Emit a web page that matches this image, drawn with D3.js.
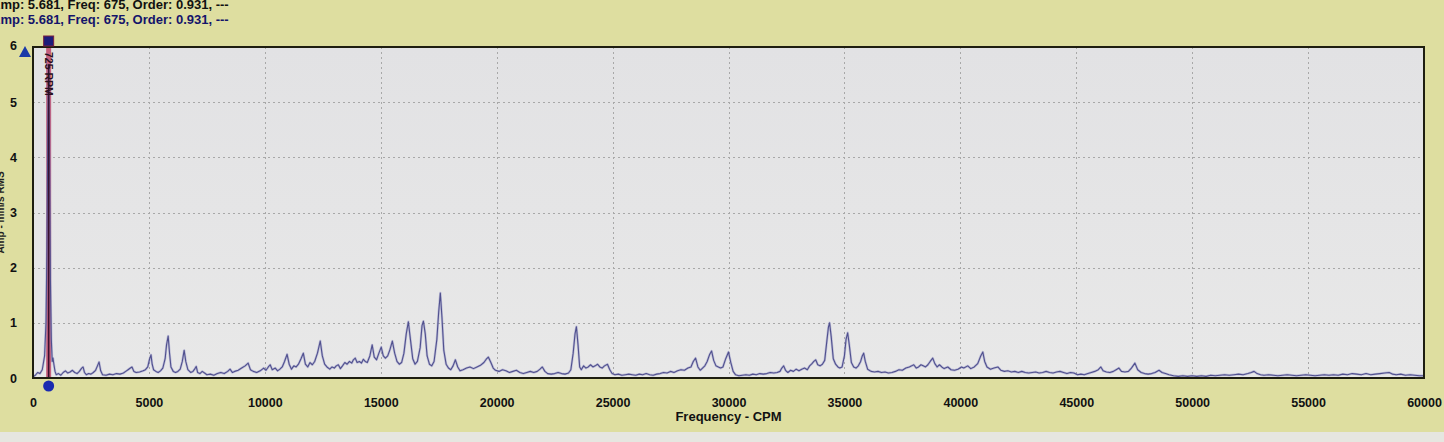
<!DOCTYPE html>
<html><head><meta charset="utf-8">
<script src="https://cdn.jsdelivr.net/npm/d3@7"></script>
<style>
html,body{margin:0;padding:0;background:#dedea0;overflow:hidden}
svg{display:block}
text{font-family:"Liberation Sans",Arial,sans-serif}
</style></head>
<body>
<svg id="c" width="1444" height="442"></svg>
<script>
// ---- data ----
const xTicks = [0,5000,10000,15000,20000,25000,30000,35000,40000,45000,50000,55000,60000];
const yTicks = [0,1,2,3,4,5,6];
const cursorFreq = 675, cursorAmp = 5.681, cursorOrder = 0.931, rpmLabel = "725 RPM";
const headerText = "Amp: 5.681, Freq: 675, Order: 0.931, ---";
const xTitle = "Frequency - CPM", yTitle = "Amp - mm/s RMS";

const band0 = [[0,0.02],[100,0.05],[200,0.1],[300,0.08],[400,0.15],[500,0.4],[560,1.0],[600,2.3],[640,4.5],[675,5.681],[710,4.2],[750,1.8],[790,0.7],[830,0.3],[863,0.36],[900,0.25],[950,0.12],[1000,0.06],[1100,0.08],[1200,0.05],[1300,0.1],[1400,0.13],[1500,0.09],[1600,0.11],[1700,0.14],[1800,0.1],[1900,0.08],[2000,0.12],[2100,0.18],[2160,0.2],[2220,0.1],[2300,0.06],[2400,0.08],[2500,0.07],[2600,0.1],[2700,0.14],[2780,0.22],[2850,0.29],[2920,0.13],[3000,0.06],[3150,0.05],[3300,0.07],[3450,0.06],[3600,0.08],[3750,0.07],[3900,0.09],[4000,0.12],[4100,0.15],[4200,0.18],[4270,0.2],[4350,0.12],[4450,0.1],[4600,0.11],[4750,0.13],[4850,0.15],[4950,0.2],[5020,0.33],[5090,0.42],[5140,0.25],[5200,0.15],[5300,0.12],[5400,0.1],[5500,0.13],[5600,0.18],[5700,0.35],[5760,0.6],[5830,0.76],[5890,0.45],[5950,0.2],[6050,0.12],[6150,0.1],[6250,0.12],[6350,0.16],[6440,0.3],[6520,0.5],[6590,0.3],[6680,0.15],[6800,0.1],[6900,0.12],[6970,0.16],[7040,0.21],[7100,0.1],[7200,0.08],[7300,0.12],[7400,0.09],[7500,0.06],[7650,0.07],[7800,0.05],[7950,0.08],[8100,0.1],[8250,0.08],[8400,0.12],[8500,0.16],[8600,0.1],[8700,0.12],[8850,0.14],[9000,0.18],[9150,0.22],[9280,0.27],[9380,0.15],[9500,0.12],[9650,0.1],[9800,0.13],[9950,0.18]];
const band10k = [[10050,0.14],[10150,0.2],[10230,0.24],[10320,0.15],[10450,0.18],[10550,0.13],[10650,0.16],[10750,0.2],[10850,0.3],[10960,0.43],[11050,0.25],[11150,0.16],[11250,0.22],[11350,0.2],[11450,0.25],[11560,0.35],[11660,0.45],[11750,0.25],[11850,0.2],[11950,0.28],[12050,0.24],[12150,0.3],[12270,0.45],[12390,0.67],[12480,0.4],[12580,0.25],[12680,0.2],[12800,0.16],[12900,0.2],[13000,0.18],[13080,0.22],[13170,0.24],[13260,0.17],[13350,0.22],[13450,0.28],[13550,0.25],[13650,0.3],[13750,0.27],[13820,0.33],[13900,0.36],[13980,0.28],[14080,0.3],[14170,0.27],[14250,0.34],[14330,0.3],[14420,0.28],[14530,0.4],[14630,0.6],[14720,0.38],[14820,0.33],[14920,0.45],[15020,0.56],[15110,0.4],[15200,0.36],[15300,0.4],[15400,0.52],[15500,0.67],[15600,0.45],[15700,0.3],[15800,0.25],[15900,0.28],[16000,0.45],[16100,0.8],[16190,1.02],[16280,0.7],[16380,0.35],[16480,0.25],[16580,0.3],[16700,0.55],[16780,0.95],[16840,1.03],[16920,0.8],[17000,0.4],[17100,0.25],[17200,0.22],[17300,0.3],[17420,0.7],[17500,1.2],[17570,1.54],[17640,1.1],[17720,0.5],[17820,0.25],[17920,0.18],[18020,0.15],[18120,0.22],[18220,0.33],[18320,0.2],[18420,0.13],[18550,0.15],[18700,0.18],[18850,0.2],[19000,0.17],[19150,0.2],[19300,0.23],[19450,0.28],[19550,0.34],[19640,0.38],[19750,0.28],[19850,0.18],[19950,0.14]];
const band20k = [[20100,0.12],[20250,0.15],[20400,0.13],[20550,0.1],[20700,0.12],[20850,0.14],[21000,0.1],[21150,0.08],[21300,0.1],[21450,0.12],[21600,0.1],[21750,0.12],[21870,0.16],[21970,0.2],[22080,0.12],[22200,0.08],[22350,0.07],[22500,0.08],[22650,0.1],[22800,0.08],[22950,0.07],[23100,0.09],[23200,0.15],[23300,0.45],[23380,0.8],[23440,0.93],[23510,0.6],[23580,0.2],[23650,0.15],[23750,0.22],[23850,0.18],[23950,0.2],[24050,0.24],[24150,0.2],[24250,0.22],[24350,0.25],[24450,0.2],[24550,0.18],[24650,0.22],[24780,0.25],[24880,0.15],[24980,0.08],[25100,0.06],[25250,0.07],[25400,0.05],[25550,0.06],[25700,0.07],[25850,0.06],[26000,0.05],[26150,0.07],[26300,0.06],[26450,0.08],[26600,0.06],[26750,0.05],[26900,0.07],[27050,0.08],[27200,0.1],[27350,0.09],[27500,0.12],[27650,0.1],[27800,0.13],[27950,0.15],[28100,0.14],[28250,0.18],[28380,0.2],[28480,0.3],[28580,0.36],[28680,0.2],[28780,0.14],[28880,0.18],[28980,0.22],[29080,0.3],[29180,0.42],[29270,0.49],[29360,0.32],[29460,0.22],[29560,0.2],[29660,0.18],[29760,0.2],[29880,0.35]];
const band30k = [[30000,0.47],[30100,0.28],[30200,0.12],[30300,0.06],[30450,0.04],[30600,0.05],[30750,0.06],[30900,0.05],[31050,0.07],[31200,0.06],[31350,0.08],[31500,0.07],[31650,0.08],[31800,0.1],[31950,0.09],[32100,0.1],[32220,0.12],[32300,0.18],[32380,0.22],[32460,0.14],[32560,0.1],[32680,0.14],[32800,0.12],[32920,0.16],[33040,0.13],[33160,0.16],[33280,0.18],[33400,0.15],[33500,0.22],[33600,0.26],[33680,0.3],[33760,0.33],[33850,0.24],[33950,0.22],[34050,0.25],[34150,0.32],[34250,0.7],[34310,0.92],[34360,1.0],[34430,0.75],[34520,0.35],[34620,0.25],[34720,0.2],[34800,0.18],[34900,0.2],[35000,0.4],[35070,0.7],[35140,0.82],[35210,0.6],[35300,0.28],[35400,0.2],[35500,0.18],[35600,0.22],[35700,0.3],[35770,0.4],[35830,0.45],[35900,0.3],[36000,0.16],[36150,0.12],[36300,0.11],[36450,0.12],[36600,0.1],[36750,0.11],[36900,0.09],[37050,0.1],[37200,0.12],[37350,0.15],[37500,0.14],[37650,0.18],[37800,0.2],[37900,0.22],[37990,0.24],[38100,0.18],[38200,0.2],[38300,0.24],[38400,0.22],[38500,0.2],[38600,0.24],[38700,0.3],[38810,0.36],[38900,0.26],[39000,0.2],[39100,0.24],[39200,0.2],[39300,0.17],[39460,0.2],[39600,0.15],[39750,0.14],[39900,0.16]];
const band40k = [[40050,0.2],[40150,0.18],[40320,0.22],[40450,0.17],[40600,0.2],[40750,0.26],[40880,0.4],[40970,0.47],[41050,0.3],[41150,0.2],[41300,0.16],[41450,0.18],[41620,0.2],[41750,0.14],[41900,0.12],[42050,0.13],[42200,0.11],[42350,0.12],[42500,0.1],[42650,0.12],[42800,0.1],[42950,0.09],[43100,0.1],[43250,0.11],[43400,0.09],[43550,0.1],[43700,0.12],[43850,0.1],[44000,0.09],[44150,0.11],[44300,0.12],[44450,0.1],[44600,0.08],[44750,0.1],[44900,0.09],[45050,0.06],[45200,0.07],[45350,0.06],[45500,0.08],[45650,0.1],[45800,0.12],[45950,0.15],[46060,0.2],[46160,0.13],[46300,0.11],[46450,0.1],[46600,0.12],[46720,0.15],[46840,0.18],[46950,0.12],[47100,0.11],[47250,0.12],[47380,0.18],[47530,0.27],[47650,0.15],[47800,0.1],[47950,0.08],[48100,0.07],[48250,0.08],[48400,0.1],[48570,0.14],[48700,0.1],[48850,0.08],[49000,0.06],[49200,0.04],[49400,0.03],[49600,0.04],[49800,0.03]];
const band50k = [[50000,0.04],[50200,0.03],[50400,0.04],[50600,0.03],[50800,0.05],[51000,0.04],[51200,0.05],[51400,0.06],[51600,0.05],[51800,0.06],[52000,0.07],[52200,0.06],[52400,0.08],[52550,0.1],[52670,0.12],[52800,0.08],[52950,0.06],[53100,0.05],[53300,0.06],[53500,0.05],[53700,0.04],[53900,0.05],[54100,0.06],[54300,0.05],[54500,0.04],[54700,0.05],[54900,0.06],[55100,0.05],[55300,0.04],[55500,0.05],[55700,0.06],[55900,0.05],[56100,0.06],[56300,0.05],[56500,0.07],[56700,0.06],[56900,0.08],[57100,0.07],[57300,0.06],[57500,0.08],[57700,0.06],[57900,0.07],[58100,0.08],[58300,0.09],[58500,0.1],[58650,0.07],[58800,0.06],[59000,0.07],[59200,0.05],[59400,0.06],[59600,0.05],[59800,0.04],[60000,0.04]];
const spectrum = [].concat(band0, band10k, band20k, band30k, band40k, band50k);

// ---- layout ----
const W = 1444, H = 442;
const m = {left:33, right:1424, top:47, bottom:378};
const svg = d3.select("#c");
const x = d3.scaleLinear().domain([0,60000]).range([m.left, m.right]);
const y = d3.scaleLinear().domain([0,6]).range([m.bottom, m.top]);

// background
svg.append("rect").attr("x",0).attr("y",0).attr("width",W).attr("height",H).attr("fill","#dedea0");
svg.append("rect").attr("x",0).attr("y",432).attr("width",W).attr("height",10).attr("fill","#e6e6e0");

// plot area
const defs = svg.append("defs");
const grad = defs.append("linearGradient").attr("id","pg").attr("x1",0).attr("y1",0).attr("x2",0).attr("y2",1);
grad.append("stop").attr("offset","0%").attr("stop-color","#e2e2e4");
grad.append("stop").attr("offset","100%").attr("stop-color","#e8e8e8");
svg.append("rect").attr("x",m.left).attr("y",m.top).attr("width",m.right-m.left).attr("height",m.bottom-m.top).attr("fill","url(#pg)");
defs.append("clipPath").attr("id","clip").append("rect").attr("x",m.left).attr("y",m.top-12).attr("width",m.right-m.left).attr("height",m.bottom-m.top+12);

// grid
const grid = svg.append("g").attr("stroke","#a8a8a8").attr("stroke-width",1).attr("stroke-dasharray","2,3");
grid.selectAll("line.v").data(xTicks.slice(1,-1)).enter().append("line")
  .attr("x1",d=>Math.round(x(d))+0.5).attr("x2",d=>Math.round(x(d))+0.5).attr("y1",m.top).attr("y2",m.bottom);
grid.selectAll("line.h").data(yTicks.slice(1,-1)).enter().append("line")
  .attr("y1",d=>Math.round(y(d))+0.5).attr("y2",d=>Math.round(y(d))+0.5).attr("x1",m.left).attr("x2",m.right);

// axes (tick labels only, via d3 axes)
const xAxis = svg.append("g").attr("transform",`translate(0,${m.bottom})`)
  .call(d3.axisBottom(x).tickValues(xTicks).tickSize(0).tickPadding(20).tickFormat(d3.format("d")));
const yAxis = svg.append("g").attr("transform",`translate(${m.left},0)`)
  .call(d3.axisLeft(y).tickValues(yTicks).tickSize(0).tickPadding(16).tickFormat(d3.format("d")));
[xAxis,yAxis].forEach(a=>{
  a.select(".domain").remove();
  a.selectAll("text").attr("font-family","'Liberation Sans',Arial,sans-serif").attr("font-size",12.5).attr("font-weight","bold").attr("fill","#111");
});
yAxis.selectAll(".tick").filter(d=>d===6).select("text").attr("dy","0.2em");

// spectrum line
const line = d3.line().x(d=>x(d[0])).y(d=>y(d[1]));
const plotG = svg.append("g").attr("clip-path","url(#clip)");

// cursor band
plotG.append("rect").attr("x",x(cursorFreq)-2.5).attr("y",m.top-8).attr("width",5).attr("height",m.bottom-m.top+8)
  .attr("fill","#c0486a").attr("opacity",0.85);

plotG.append("path").datum(spectrum).attr("d",line).attr("fill","none")
  .attr("stroke","#8a8ac4").attr("stroke-width",2.4).attr("stroke-opacity",0.45).attr("stroke-linejoin","round");
plotG.append("path").datum(spectrum).attr("d",line).attr("fill","none")
  .attr("stroke","#50508e").attr("stroke-width",1.1).attr("stroke-linejoin","round");

// dark core of main peak
plotG.append("line").attr("x1",x(cursorFreq)).attr("x2",x(cursorFreq)).attr("y1",y(cursorAmp)).attr("y2",m.bottom)
  .attr("stroke","#3a1030").attr("stroke-width",1.6);

// border
svg.append("rect").attr("x",m.left).attr("y",m.top).attr("width",m.right-m.left).attr("height",m.bottom-m.top)
  .attr("fill","none").attr("stroke","#1e1e10").attr("stroke-width",2);

// markers
svg.append("rect").attr("x",x(cursorFreq)-5).attr("y",36).attr("width",10).attr("height",10).attr("fill","#1c1c7a").attr("stroke","#7a2040").attr("stroke-width",1);
svg.append("circle").attr("cx",x(cursorFreq)).attr("cy",386).attr("r",5.5).attr("fill","#1a2ab0");
svg.append("path").attr("d",`M${25},${46} L${31},${57} L${19},${57} Z`).attr("fill","#1a3aa8");

// rpm label
svg.append("text").attr("transform",`translate(${x(cursorFreq)-4},${52}) rotate(90)`)
  .attr("font-size",10.5).attr("font-weight","bold").attr("fill","#2a1020").text(rpmLabel);

// header
svg.append("text").attr("x",-9).attr("y",9).attr("font-size",13).attr("font-weight","bold").attr("fill","#111").text(headerText);
svg.append("text").attr("x",-9).attr("y",24).attr("font-size",13).attr("font-weight","bold").attr("fill","#14146a").text(headerText);

// axis titles
svg.append("text").attr("x",(m.left+m.right)/2).attr("y",421).attr("text-anchor","middle")
  .attr("font-size",13).attr("font-weight","bold").attr("fill","#111").text(xTitle);
svg.append("text").attr("transform",`translate(4,${(m.top+m.bottom)/2}) rotate(-90)`).attr("text-anchor","middle")
  .attr("font-size",10).attr("font-weight","bold").attr("fill","#222").text(yTitle);
</script>
</body></html>
